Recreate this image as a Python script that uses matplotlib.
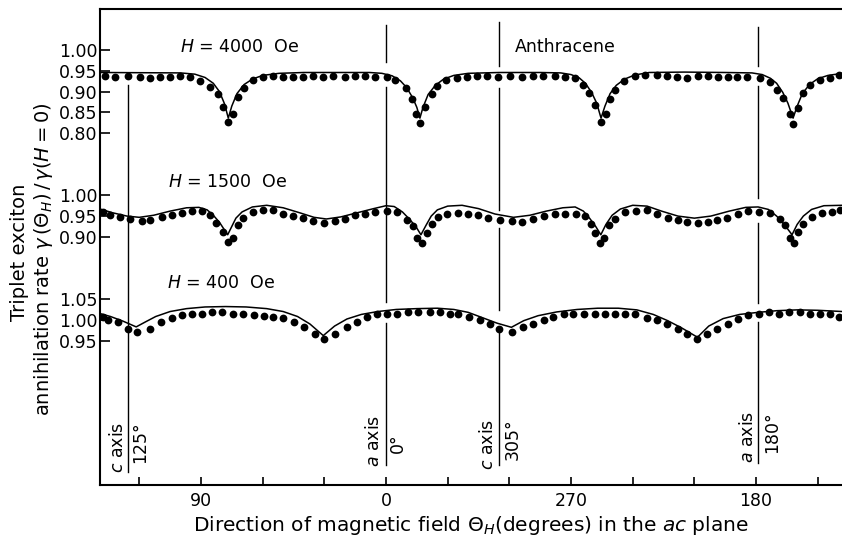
import matplotlib
matplotlib.use("Agg")
import matplotlib.pyplot as plt
import numpy as np

# x positions are degrees along the scan (tick "0" at 0, labels run 90, 0, 270, 180)
# --- H = 4000 Oe ---
dots4000_x = [-136.7, -131.8, -125.3, -119.7, -114.8, -109.9, -105.1, -100.2, -95.3, -90.5,
              -85.6, -81.6, -79.3, -76.7, -74.3, -71.8, -69.3, -64.5, -59.7, -54.8,
              -50.0, -45.1, -40.2, -35.3, -30.5, -25.6, -19.9, -15.1, -10.2, -5.4,
              0.3, 4.4, 9.7, 12.5, 14.6, 16.5, 19.0, 22.2, 24.7, 29.2,
              34.7, 39.3, 44.2, 49.0, 54.7, 60.3, 66.0, 71.7, 76.6, 82.2,
              87.1, 91.9, 96.0, 98.9, 101.7, 104.6, 106.9, 109.0, 111.4, 115.8,
              121.1, 126.0, 131.7, 136.5, 141.4, 146.6, 152.0, 156.8, 161.7, 166.5,
              170.6, 175.5, 182.0, 186.8, 190.1, 193.3, 196.5, 198.1, 200.6, 203.0,
              206.3, 211.1, 216.0, 220.5]
dots4000_y = [0.937, 0.936, 0.937, 0.936, 0.932, 0.936, 0.935, 0.937, 0.935, 0.926,
              0.912, 0.893, 0.862, 0.826, 0.847, 0.886, 0.908, 0.928, 0.936, 0.937,
              0.936, 0.936, 0.935, 0.937, 0.935, 0.937, 0.936, 0.937, 0.937, 0.936,
              0.934, 0.929, 0.908, 0.881, 0.847, 0.825, 0.862, 0.893, 0.913, 0.928,
              0.933, 0.935, 0.937, 0.937, 0.936, 0.937, 0.936, 0.937, 0.937, 0.937,
              0.935, 0.932, 0.916, 0.896, 0.867, 0.827, 0.847, 0.881, 0.905, 0.926,
              0.937, 0.940, 0.940, 0.937, 0.936, 0.932, 0.937, 0.937, 0.936, 0.935,
              0.935, 0.935, 0.932, 0.924, 0.904, 0.884, 0.847, 0.823, 0.860, 0.896,
              0.916, 0.928, 0.932, 0.940]
line4000_x = [-139, -100, -93, -88, -84, -81, -78.5, -76.7, -75, -72.5, -69, -65, -60, -52, -40,
              -20, -8, -2, 3, 7, 10, 13, 15, 16.5, 18, 20.5, 24, 28, 33, 40, 55, 75, 85, 90, 94,
              97, 100, 102.5, 104.6, 106.5, 109, 112, 116, 121, 128, 145, 165, 178, 183, 187,
              190, 193, 195.5, 198, 200, 202.5, 206, 210, 215, 222]
line4000_y = [0.946, 0.945, 0.942, 0.934, 0.920, 0.900, 0.870, 0.836, 0.865, 0.895, 0.917, 0.930,
              0.939, 0.944, 0.946, 0.946, 0.946, 0.944, 0.938, 0.926, 0.910, 0.885, 0.862, 0.836,
              0.862, 0.893, 0.915, 0.930, 0.939, 0.944, 0.946, 0.946, 0.945, 0.941, 0.933, 0.920,
              0.898, 0.872, 0.836, 0.865, 0.895, 0.915, 0.930, 0.940, 0.946, 0.947, 0.946, 0.945,
              0.941, 0.932, 0.920, 0.898, 0.872, 0.836, 0.865, 0.895, 0.917, 0.931, 0.939, 0.944]

# --- H = 1500 Oe ---
dots1500_x = [-137.5, -134.3, -129.4, -124.5, -118.8, -114.8, -109.1, -104.3, -99.4, -94.5,
              -89.7, -85.6, -82.7, -79.1, -76.7, -74.6, -71.8, -69.4, -64.9, -59.7,
              -54.8, -50.0, -45.1, -40.2, -35.4, -30.2, -24.8, -19.9, -15.1, -10.2,
              -5.4, 0.3, 5.2, 10.1, 13.0, 14.9, 17.4, 19.8, 22.2, 25.5,
              29.5, 35.2, 40.0, 44.9, 49.8, 55.5, 61.1, 66.0, 71.7, 76.9,
              82.2, 87.1, 92.4, 96.8, 99.6, 101.7, 104.1, 106.1, 108.6, 111.4,
              116.3, 121.6, 126.8, 131.7, 137.3, 142.2, 146.3, 151.9, 156.8, 160.9,
              166.0, 171.4, 176.3, 181.6, 186.8, 191.7, 194.1, 196.5, 198.5, 200.6,
              203.0, 207.1, 212.0, 216.8, 220.9]
dots1500_y = [0.960, 0.952, 0.948, 0.944, 0.938, 0.941, 0.948, 0.952, 0.957, 0.962,
              0.962, 0.952, 0.933, 0.912, 0.888, 0.896, 0.928, 0.946, 0.960, 0.965,
              0.965, 0.956, 0.949, 0.946, 0.938, 0.933, 0.938, 0.944, 0.952, 0.954,
              0.960, 0.963, 0.960, 0.941, 0.925, 0.896, 0.884, 0.909, 0.932, 0.948,
              0.956, 0.957, 0.956, 0.952, 0.946, 0.941, 0.938, 0.936, 0.944, 0.949,
              0.954, 0.956, 0.954, 0.949, 0.932, 0.909, 0.884, 0.896, 0.928, 0.944,
              0.960, 0.962, 0.964, 0.954, 0.946, 0.940, 0.936, 0.933, 0.936, 0.941,
              0.946, 0.954, 0.962, 0.960, 0.957, 0.944, 0.928, 0.896, 0.884, 0.912,
              0.932, 0.948, 0.957, 0.960, 0.964]
line1500_x = [-139, -133, -126, -120, -113, -105, -97, -91, -87, -84, -81, -79, -77, -75, -73,
              -70, -65, -58, -50, -42, -35, -29, -22, -14, -6, 0, 4, 8, 11.5, 14.5, 17, 19.5,
              22, 25, 30, 37, 45, 53, 62, 70, 78, 86, 92, 96, 99, 102, 104.5, 107, 110, 114,
              120, 127, 134, 142, 150, 158, 167, 175, 181, 186, 190, 194, 197.5, 200, 203,
              207, 213, 222]
line1500_y = [0.967, 0.958, 0.950, 0.947, 0.952, 0.962, 0.970, 0.971, 0.965, 0.952, 0.935,
              0.920, 0.905, 0.925, 0.945, 0.960, 0.972, 0.976, 0.970, 0.958, 0.947, 0.943,
              0.948, 0.958, 0.968, 0.975, 0.973, 0.960, 0.942, 0.925, 0.905, 0.928, 0.950,
              0.965, 0.974, 0.976, 0.968, 0.955, 0.947, 0.952, 0.962, 0.970, 0.972, 0.962,
              0.945, 0.925, 0.905, 0.930, 0.952, 0.967, 0.976, 0.974, 0.962, 0.950, 0.945,
              0.950, 0.962, 0.971, 0.972, 0.966, 0.950, 0.928, 0.905, 0.930, 0.950, 0.966,
              0.975, 0.976]

# --- H = 400 Oe ---
dots400_x = [-137.5, -135.1, -130.2, -125.3, -121.0, -114.8, -109.6, -104.3, -99.4, -94.5,
             -89.7, -84.8, -79.9, -74.3, -69.4, -64.2, -59.3, -54.8, -50.0, -44.8,
             -39.9, -34.5, -30.2, -24.8, -19.1, -14.3, -9.4, -4.5, 0.3, 5.2,
             10.9, 15.7, 21.4, 26.3, 31.1, 35.2, 40.5, 45.7, 50.6, 55.1,
             61.1, 66.5, 71.4, 76.9, 81.4, 86.6, 91.1, 96.3, 101.7, 106.5,
             111.4, 116.3, 121.1, 126.8, 131.7, 136.5, 142.2, 146.6, 151.4, 156.3,
             161.2, 166.5, 171.4, 176.3, 181.6, 186.5, 191.3, 196.2, 201.4, 206.3,
             211.1, 216.0, 220.5]
dots400_y = [1.007, 0.999, 0.995, 0.979, 0.970, 0.979, 0.994, 1.005, 1.011, 1.013,
             1.015, 1.018, 1.018, 1.015, 1.013, 1.011, 1.010, 1.007, 1.005, 0.994,
             0.983, 0.967, 0.955, 0.967, 0.983, 0.995, 1.007, 1.013, 1.013, 1.015,
             1.018, 1.018, 1.018, 1.018, 1.015, 1.013, 1.007, 0.999, 0.989, 0.978,
             0.970, 0.983, 0.991, 0.999, 1.007, 1.013, 1.015, 1.015, 1.015, 1.013,
             1.013, 1.013, 1.013, 1.005, 0.999, 0.991, 0.979, 0.965, 0.955, 0.965,
             0.979, 0.991, 1.002, 1.011, 1.013, 1.018, 1.015, 1.018, 1.018, 1.015,
             1.013, 1.013, 1.007]
line400_x = [-139, -134, -128, -121.5, -117, -112, -105, -97, -88, -78, -68, -58, -50, -43, -37,
             -30.5, -25, -19, -12, -4, 5, 15, 25, 33, 40, 47, 54, 61, 67, 74, 83, 93, 103, 113,
             122, 130, 137, 144, 151.5, 157, 164, 172, 181, 190, 200, 210, 222]
line400_y = [1.015, 1.008, 0.997, 0.983, 0.995, 1.008, 1.020, 1.027, 1.031, 1.032, 1.031, 1.027,
             1.020, 1.008, 0.990, 0.962, 0.985, 1.002, 1.013, 1.020, 1.025, 1.027, 1.028, 1.025,
             1.018, 1.005, 0.992, 0.982, 0.998, 1.010, 1.019, 1.025, 1.028, 1.028, 1.024, 1.013,
             0.998, 0.980, 0.958, 0.985, 1.003, 1.013, 1.018, 1.022, 1.024, 1.023, 1.020]

# vertical offsets used to stack the three curves on one axis
offsets = {"4000": 0.0, "1500": 0.35, "400": 0.65}

series = [
    (dots4000_x, dots4000_y, line4000_x, line4000_y, offsets["4000"]),
    (dots1500_x, dots1500_y, line1500_x, line1500_y, offsets["1500"]),
    (dots400_x, dots400_y, line400_x, line400_y, offsets["400"]),
]

fig = plt.figure(figsize=(8.42, 5.39), dpi=100)
ax = fig.add_axes([100 / 842, 1 - 485 / 539, 742 / 842, 476 / 539])

for dx, dy, lx, ly, off in series:
    ax.plot(lx, np.array(ly) - off, color="black", lw=1.1, zorder=3)
    ax.plot(dx, np.array(dy) - off, "o", color="black", ms=5.6, mew=0, zorder=4)

# crystal axis marker lines (drawn with gaps where the curves cross)
axis_lines = [
    (-125.5, [(0.916, -0.017)]),
    (0.2, [(1.060, 0.971), (0.911, 0.393), (0.342, 0.000)]),
    (55.2, [(1.067, 0.961), (0.908, 0.614), (0.571, 0.373), (0.325, 0.000)]),
    (181.0, [(1.055, 0.961), (0.913, 0.643), (0.583, 0.390), (0.345, 0.005)]),
]
for xpos, segs in axis_lines:
    for top, bot in segs:
        ax.plot([xpos, xpos], [bot, top], color="black", lw=1.0, zorder=2)

fs = 12.5
lab = dict(rotation=90, ha="center", va="bottom", fontsize=fs)
ax.text(-130.4, -0.019, r"$c$ axis", **lab)
ax.text(-119.7, 0.005, "125°", **lab)
ax.text(-5.6, -0.005, r"$a$ axis", **lab)
ax.text(5.8, 0.029, "0°", **lab)
ax.text(49.6, -0.012, r"$c$ axis", **lab)
ax.text(61.8, 0.012, "305°", **lab)
ax.text(176.1, 0.005, r"$a$ axis", **lab)
ax.text(187.8, 0.029, "180°", **lab)

ax.text(-71, 1.007, r"$H$ = 4000  Oe", ha="center", va="center", fontsize=fs)
ax.text(87, 1.007, "Anthracene", ha="center", va="center", fontsize=fs)
ax.text(-77, 0.682, r"$H$ = 1500  Oe", ha="center", va="center", fontsize=fs)
ax.text(-80, 0.439, r"$H$ = 400  Oe", ha="center", va="center", fontsize=fs)

ax.set_xlim(-139.1, 221.8)
ax.set_ylim(-0.048, 1.099)

ax.set_xticks(np.arange(-120, 220, 30))
ax.set_xticklabels(["", "90", "", "", "0", "", "", "270", "", "", "180", ""])
ax.set_yticks([1.00, 0.95, 0.90, 0.85, 0.80, 0.65, 0.60, 0.55, 0.40, 0.35, 0.30])
ax.set_yticklabels(["1.00", "0.95", "0.90", "0.85", "0.80",
                    "1.00", "0.95", "0.90",
                    "1.05", "1.00", "0.95"])
ax.tick_params(axis="x", direction="in", length=6, width=1.2, labelsize=fs, pad=5)
ax.tick_params(axis="y", direction="in", length=7, width=1.2, labelsize=fs, pad=2)

ax.spines["right"].set_visible(False)
for s in ["left", "bottom", "top"]:
    ax.spines[s].set_linewidth(1.5)

ax.set_xlabel(r"Direction of magnetic field $\Theta_H$(degrees) in the $ac$ plane",
              fontsize=14.5, labelpad=3)
fig.text(20 / 842, 1 - 252 / 539, "Triplet exciton", rotation=90,
         ha="center", va="center", fontsize=14)
fig.text(44 / 842, 1 - 259 / 539, r"annihilation rate $\gamma\,(\Theta_H)\,/\,\gamma(H=0)$",
         rotation=90, ha="center", va="center", fontsize=14)

fig.savefig("out.png", dpi=100)
